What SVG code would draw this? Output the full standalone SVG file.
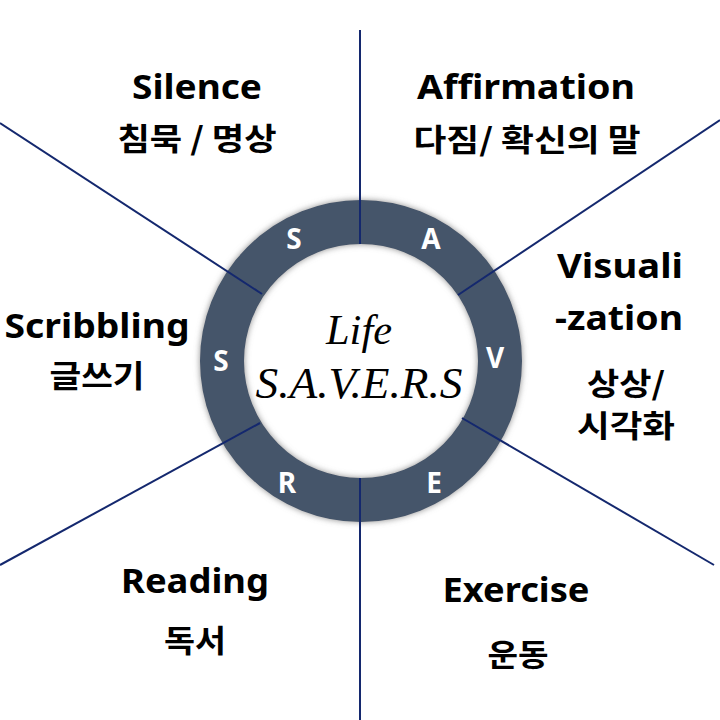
<svg xmlns="http://www.w3.org/2000/svg" width="720" height="720" viewBox="0 0 720 720">
<style>
.lbl{font-family:"Noto Sans","Noto Sans CJK KR",sans-serif;font-weight:700;font-size:34px;fill:#000;text-anchor:middle}
.ko{font-family:"Noto Sans CJK KR","Noto Sans",sans-serif;font-weight:700;font-size:31px;fill:#000;text-anchor:middle}
.ring-l{font-family:"Noto Sans",sans-serif;font-weight:700;font-size:28px;fill:#fff;text-anchor:middle}
.ctr{font-family:"Liberation Serif",serif;font-style:italic;fill:#000;text-anchor:middle}
.conn line{stroke:#14286e;stroke-width:2}
</style>
<defs>
<filter id="glow" x="-20%" y="-20%" width="140%" height="140%">
<feGaussianBlur in="SourceAlpha" stdDeviation="3" result="b"/>
<feFlood flood-color="#7f7f7f" flood-opacity="0.9"/>
<feComposite in2="b" operator="in" result="s"/>
<feMerge><feMergeNode in="s"/><feMergeNode in="SourceGraphic"/></feMerge>
</filter>
</defs>
<rect width="720" height="720" fill="#fff"/>
<g id="ring">
<circle cx="361" cy="361" r="139" fill="none" stroke="#44546a" stroke-width="44" filter="url(#glow)"/>
<text class="ring-l" x="294" y="249">S</text>
<text class="ring-l" x="431" y="249">A</text>
<text class="ring-l" x="495" y="368">V</text>
<text class="ring-l" x="434" y="493">E</text>
<text class="ring-l" x="287" y="493">R</text>
<text class="ring-l" x="221" y="371">S</text>
</g>
<g class="conn" id="connectors">
<line x1="360" y1="30" x2="360" y2="244"/>
<line x1="360" y1="478" x2="360" y2="720"/>
<line x1="0" y1="123" x2="262" y2="294"/>
<line x1="720" y1="120" x2="458" y2="295"/>
<line x1="462" y1="418" x2="714" y2="565"/>
<line x1="0" y1="565" x2="260" y2="423"/>
</g>
<g id="center">
<text class="ctr" x="359" y="344" font-size="42" textLength="66" lengthAdjust="spacingAndGlyphs">Life</text>
<text class="ctr" x="359" y="398" font-size="44" textLength="207" lengthAdjust="spacingAndGlyphs">S.A.V.E.R.S</text>
</g>
<g id="silence">
<text class="lbl" x="197" y="99" textLength="130" lengthAdjust="spacingAndGlyphs">Silence</text>
<text class="ko" x="197" y="150" textLength="159" lengthAdjust="spacingAndGlyphs">침묵 / 명상</text>
</g>
<g id="affirmation">
<text class="lbl" x="526" y="99" textLength="218" lengthAdjust="spacingAndGlyphs">Affirmation</text>
<text class="ko" x="527" y="151" textLength="227" lengthAdjust="spacingAndGlyphs">다짐/ 확신의 말</text>
</g>
<g id="visualization">
<text class="lbl" x="620" y="278" textLength="126" lengthAdjust="spacingAndGlyphs">Visuali</text>
<text class="lbl" x="619" y="330" textLength="128" lengthAdjust="spacingAndGlyphs">-zation</text>
<text class="ko" x="626" y="395" font-size="28" textLength="78" lengthAdjust="spacingAndGlyphs">상상/</text>
<text class="ko" x="626" y="437" font-size="28" textLength="98" lengthAdjust="spacingAndGlyphs">시각화</text>
</g>
<g id="exercise">
<text class="lbl" x="516" y="602" textLength="147" lengthAdjust="spacingAndGlyphs">Exercise</text>
<text class="ko" x="518" y="666" textLength="61" lengthAdjust="spacingAndGlyphs">운동</text>
</g>
<g id="reading">
<text class="lbl" x="195" y="593" textLength="148" lengthAdjust="spacingAndGlyphs">Reading</text>
<text class="ko" x="195" y="652" textLength="62" lengthAdjust="spacingAndGlyphs">독서</text>
</g>
<g id="scribbling">
<text class="lbl" x="97" y="338" textLength="185" lengthAdjust="spacingAndGlyphs">Scribbling</text>
<text class="ko" x="97" y="387" textLength="95" lengthAdjust="spacingAndGlyphs">글쓰기</text>
</g>
</svg>
